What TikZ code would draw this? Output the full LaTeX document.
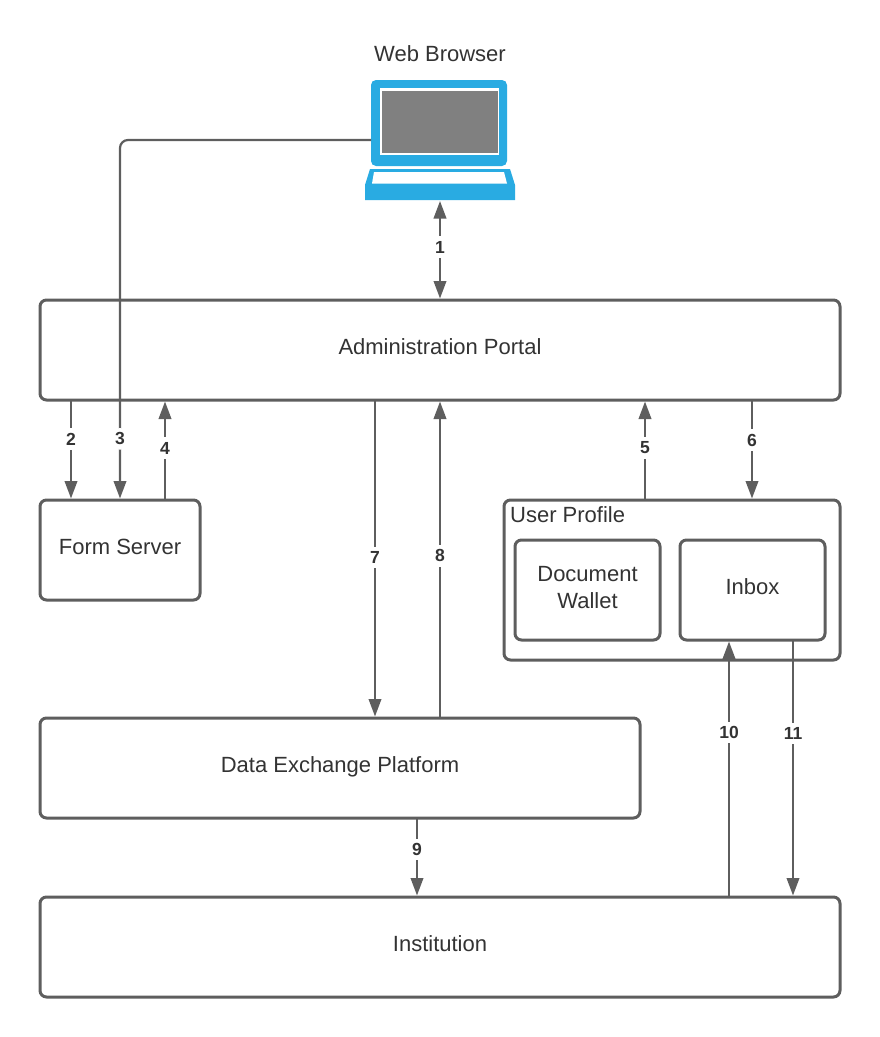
\documentclass[tikz,border=0pt]{standalone}
\usepackage{fontspec}
\setmainfont{Liberation Sans}
\usetikzlibrary{arrows.meta}
\definecolor{ln}{HTML}{5E5E5E}
\definecolor{txt}{HTML}{333333}
\definecolor{lapblue}{HTML}{29ABE2}
\definecolor{scr}{HTML}{808080}
\tikzset{
  boxn/.style={draw=ln,line width=3pt,rounded corners=6.5pt,fill=white,text=txt,font=\fontsize{22pt}{27pt}\selectfont,align=center,inner sep=0pt,outer sep=0pt,anchor=north west,text height=16pt,text depth=8pt},
  conn/.style={draw=ln,line width=2.2pt},
  arr/.style={conn,shorten >=1.5pt,-{Triangle[length=17.5pt,width=12.5pt,fill=ln]}},
  dbl/.style={conn,shorten >=1.5pt,shorten <=1pt,{Triangle[length=17.5pt,width=12.5pt,fill=ln]}-{Triangle[length=17.5pt,width=12.5pt,fill=ln]}},
  num/.style={fill=white,text=txt,font=\bfseries\fontsize{17.5pt}{18pt}\selectfont,inner xsep=1.5pt,inner ysep=4.5pt},
  plain/.style={text=txt,font=\fontsize{22pt}{27pt}\selectfont,inner sep=0pt}
}
\begin{document}
\begin{tikzpicture}[x=1pt,y=-1pt]
\useasboundingbox (0,0) rectangle (880,1037);
% laptop
\fill[lapblue,rounded corners=5pt] (371,80) rectangle (507,166);
\fill[white] (380,88) rectangle (499,155);
\fill[scr] (382,90.5) rectangle (498,152.5);
\fill[lapblue] (370,169) -- (510,169) -- (515,185) -- (515,200) -- (365,200) -- (365,185) -- cycle;
\fill[white] (374,172) -- (504,172) -- (507,183.5) -- (372,183.5) -- cycle;
\coordinate (lapleft) at (371,140);
\coordinate (lapbase) at (440,200);
\node[plain] (web) at (440,54) {Web Browser};
% boxes
\node[boxn,minimum width=800pt,minimum height=100pt] (portal) at (40,300) {Administration Portal};
\node[boxn,minimum width=160pt,minimum height=100pt] (form) at (40,500) {Form Server};
\node[boxn,minimum width=336pt,minimum height=160pt] (profile) at (504,500) {};
\node[plain,anchor=west] (ptitle) at (510,515) {User Profile};
\node[boxn,minimum width=145pt,minimum height=100pt,text height=43pt,text depth=6pt] (wallet) at (515,540) {Document\\Wallet};
\node[boxn,minimum width=145pt,minimum height=100pt] (inbox) at (680,540) {Inbox};
\node[boxn,minimum width=600pt,minimum height=100pt] (dex) at (40,718) {Data Exchange Platform};
\node[boxn,minimum width=800pt,minimum height=100pt] (inst) at (40,897) {Institution};
% x guides
\foreach \n/\x in {xa/71,xb/120,xc/165,xd/375,xe/440,xf/645,xg/752,xh/417,xi/729,xj/793}{\coordinate (\n) at (\x,0);}
% connectors
\draw[dbl] (lapbase) -- node[num,pos=.47] (n1) {1} (portal.north);
\draw[arr,rounded corners=8pt] (lapleft) -- (lapleft -| form.north) -- node[num,pos=.83] (n3) {3} (form.north);
\draw[arr] (portal.south -| xa) -- node[num,pos=.39] (n2) {2} (form.north -| xa);
\draw[arr] (form.north -| xc) -- node[num,pos=.52] (n4) {4} (portal.south -| xc);
\draw[arr] (portal.south -| xd) -- node[num,pos=.495] (n7) {7} (dex.north -| xd);
\draw[arr] (dex.north -| xe) -- node[num,pos=.51] (n8) {8} (portal.south -| xe);
\draw[arr] (profile.north -| xf) -- node[num,pos=.52] (n5) {5} (portal.south -| xf);
\draw[arr] (portal.south -| xg) -- node[num,pos=.40] (n6) {6} (profile.north -| xg);
\draw[arr] (dex.south -| xh) -- node[num,pos=.40] (n9) {9} (inst.north -| xh);
\draw[arr] (inst.north -| xi) -- node[num,pos=.64] (n10) {10} (inbox.south -| xi);
\draw[arr] (inbox.south -| xj) -- node[num,pos=.365] (n11) {11} (inst.north -| xj);
\end{tikzpicture}
\end{document}
